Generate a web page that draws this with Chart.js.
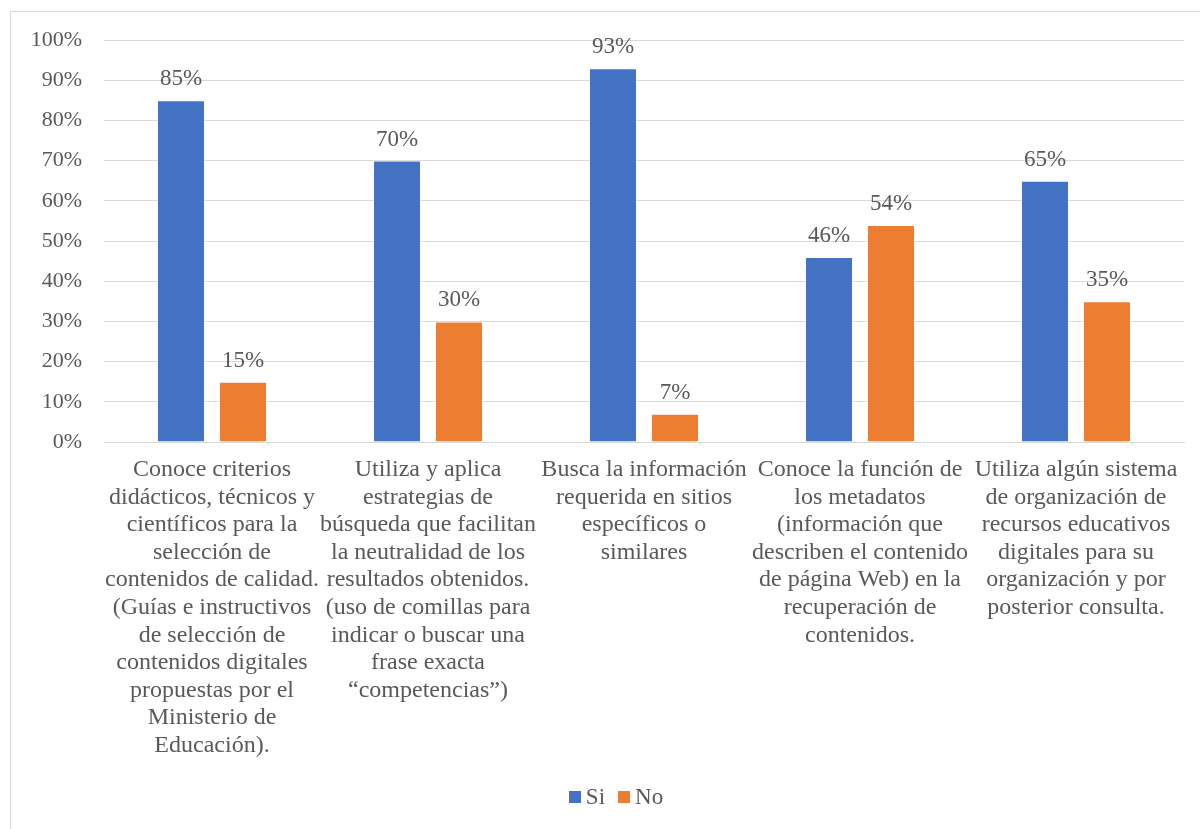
<!DOCTYPE html>
<html lang="es">
<head>
<meta charset="utf-8">
<title>Competencias de búsqueda y gestión de contenidos digitales</title>
<script src="https://cdn.jsdelivr.net/npm/chart.js@4/dist/chart.umd.min.js"></script>
<style>
  html, body { margin: 0; padding: 0; background: #ffffff; }
  #wrap { width: 1200px; height: 829px; position: relative; }
</style>
</head>
<body>
<div id="wrap"><canvas id="chart" width="1200" height="829"></canvas></div>
<script>
// Category labels, already split into lines
const categories = [
  ["Conoce criterios", "didácticos, técnicos y", "científicos para la", "selección de", "contenidos de calidad.", "(Guías e instructivos", "de selección de", "contenidos digitales", "propuestas por el", "Ministerio de", "Educación)."],
  ["Utiliza y aplica", "estrategias de", "búsqueda que facilitan", "la neutralidad de los", "resultados obtenidos.", "(uso de comillas para", "indicar o buscar una", "frase exacta", "“competencias”)"],
  ["Busca la información", "requerida en sitios", "específicos o", "similares"],
  ["Conoce la función de", "los metadatos", "(información que", "describen el contenido", "de página Web) en la", "recuperación de", "contenidos."],
  ["Utiliza algún sistema", "de organización de", "recursos educativos", "digitales para su", "organización y por", "posterior consulta."]
];

// Percentages per answer
const siValues = [85, 70, 93, 46, 65];
const noValues = [15, 30, 7, 54, 35];

// Y axis tick values
const yTicks = [0, 10, 20, 30, 40, 50, 60, 70, 80, 90, 100];

const FONT = "'Liberation Serif', 'Times New Roman', serif";
const TEXT = '#595959';
const GRID = '#d9d9d9';

// Outer frame of the chart
const framePlugin = {
  id: 'frame',
  beforeDraw(chart) {
    const ctx = chart.ctx;
    ctx.save();
    ctx.fillStyle = '#ffffff';
    ctx.fillRect(0, 0, chart.width, chart.height);
    ctx.strokeStyle = GRID;
    ctx.lineWidth = 1;
    ctx.strokeRect(10.5, 11.5, chart.width + 20, chart.height + 20);
    ctx.restore();
  }
};

// Percentage labels above each column
const valueLabels = {
  id: 'valueLabels',
  afterDatasetsDraw(chart) {
    const ctx = chart.ctx;
    ctx.save();
    ctx.font = '23px ' + FONT;
    ctx.fillStyle = TEXT;
    ctx.textAlign = 'center';
    ctx.textBaseline = 'alphabetic';
    chart.data.datasets.forEach((ds, i) => {
      const meta = chart.getDatasetMeta(i);
      meta.data.forEach((bar, j) => {
        ctx.fillText(ds.data[j] + '%', bar.x, bar.y - 15);
      });
    });
    ctx.restore();
  }
};

// Legend row under the category labels
const bottomLegend = {
  id: 'bottomLegend',
  afterDraw(chart) {
    const ctx = chart.ctx;
    const box = 12, gap = 5, spacing = 13, cy = 797, cx = 616;
    ctx.save();
    ctx.font = '23px ' + FONT;
    const items = chart.data.datasets.map(ds => ({
      text: ds.label, color: ds.backgroundColor, w: box + gap + ctx.measureText(ds.label).width
    }));
    const total = items.reduce((s, it) => s + it.w, 0) + spacing * (items.length - 1);
    let x = cx - total / 2;
    ctx.textBaseline = 'middle';
    ctx.textAlign = 'left';
    items.forEach(it => {
      ctx.fillStyle = it.color;
      ctx.fillRect(Math.round(x), cy - box / 2, box, box);
      ctx.fillStyle = TEXT;
      ctx.fillText(it.text, x + box + gap, cy + 1);
      x += it.w + spacing;
    });
    ctx.restore();
  }
};

new Chart(document.getElementById('chart'), {
  type: 'bar',
  data: {
    labels: categories,
    datasets: [
      { label: 'Si', data: siValues, backgroundColor: '#4472C4', borderColor: 'rgba(255,255,255,0.6)', borderWidth: 1,
        categoryPercentage: 0.574, barPercentage: 0.774 },
      { label: 'No', data: noValues, backgroundColor: '#ED7D31', borderColor: 'rgba(255,255,255,0.6)', borderWidth: 1,
        categoryPercentage: 0.574, barPercentage: 0.774 }
    ]
  },
  options: {
    responsive: false,
    animation: false,
    devicePixelRatio: 1,
    layout: { padding: { left: 10, right: 16, top: 40, bottom: 58 } },
    plugins: {
      legend: { display: false },
      tooltip: { enabled: false }
    },
    scales: {
      x: {
        grid: { display: false, drawTicks: false },
        border: { display: true, color: GRID, width: 1 },
        ticks: {
          font: { family: FONT, size: 24, lineHeight: 1.15 },
          color: TEXT,
          padding: 14,
          maxRotation: 0,
          autoSkip: false
        },
        afterFit(scale) { scale.height = 329; }
      },
      y: {
        min: 0,
        max: 100,
        afterBuildTicks(scale) { scale.ticks = yTicks.map(v => ({ value: v })); },
        grid: { color: GRID, lineWidth: 1, drawTicks: false },
        border: { display: false },
        ticks: {
          font: { family: FONT, size: 22 },
          color: TEXT,
          padding: 22,
          callback: v => v + '%'
        },
        afterFit(scale) { scale.width = 94; }
      }
    }
  },
  plugins: [framePlugin, valueLabels, bottomLegend]
});
</script>
</body>
</html>
